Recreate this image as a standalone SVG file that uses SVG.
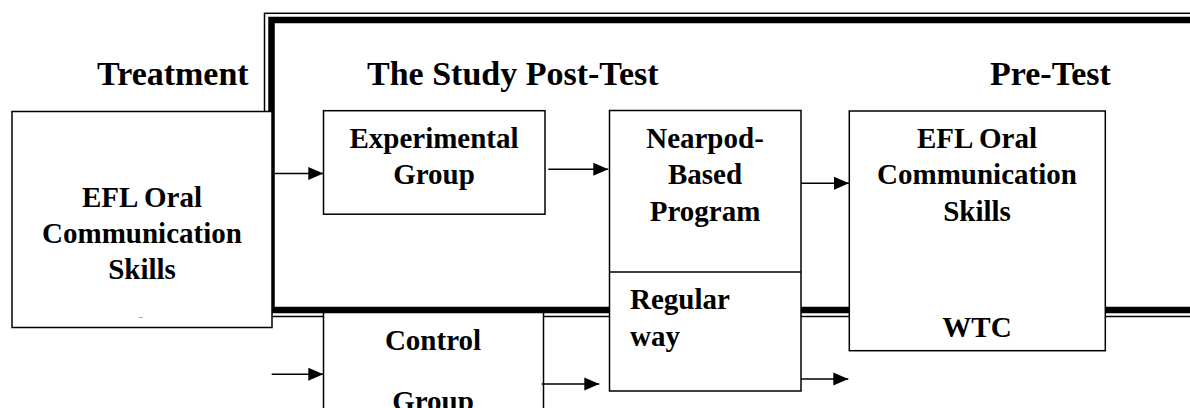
<svg xmlns="http://www.w3.org/2000/svg" width="1190" height="408" viewBox="0 0 1190 408">
<defs>
<style>
.box{fill:#fff;stroke:#000;stroke-width:1.5}
.t{font-family:"Liberation Serif","Times New Roman",serif;font-weight:bold;fill:#000}
.title{font-size:34px}
.lbl{font-size:29px;text-anchor:middle}
.lbll{font-size:29px}
.conn{stroke:#000;stroke-width:1.5;fill:none}
</style>
<marker id="ah" markerUnits="userSpaceOnUse" markerWidth="16" markerHeight="14" refX="15" refY="7" orient="auto">
<polygon points="0,0.5 15,7 0,13.5" fill="#000"/>
</marker>
</defs>
<rect width="1190" height="408" fill="#fff"/>
<g id="frame">
<rect x="264.5" y="13.3" width="1000" height="303.2" fill="none" stroke="#000" stroke-width="1.5"/>
<rect x="271.5" y="20" width="1000" height="290" fill="none" stroke="#000" stroke-width="6.5"/>
</g>
<g id="titles">
<text class="t title" x="97" y="85">Treatment</text>
<text class="t title" x="367" y="85">The Study Post-Test</text>
<text class="t title" x="990" y="85">Pre-Test</text>
</g>
<g id="node-efl-left">
<rect class="box" x="12" y="111.5" width="260" height="216"/>
<text class="t lbl" x="142" y="207">EFL Oral</text>
<text class="t lbl" x="142" y="243">Communication</text>
<text class="t lbl" x="142" y="279">Skills</text>
<line x1="139" y1="317.5" x2="143" y2="317.5" stroke="#aaa" stroke-width="1"/>
</g>
<g id="node-experimental">
<rect class="box" x="323.5" y="110.7" width="221.5" height="103.5"/>
<text class="t lbl" x="434" y="148">Experimental</text>
<text class="t lbl" x="434" y="184">Group</text>
</g>
<g id="node-control">
<rect class="box" x="323.5" y="312.5" width="220" height="120"/>
<text class="t lbl" x="433" y="350">Control</text>
<text class="t lbl" x="433" y="411">Group</text>
</g>
<g id="node-program">
<rect class="box" x="609.5" y="110.5" width="191.5" height="280.5"/>
<line x1="609.5" y1="272" x2="801" y2="272" stroke="#000" stroke-width="1.5"/>
<text class="t lbl" x="705" y="148">Nearpod-</text>
<text class="t lbl" x="705" y="184">Based</text>
<text class="t lbl" x="705" y="221">Program</text>
<text class="t lbll" x="630" y="309">Regular</text>
<text class="t lbll" x="630" y="346">way</text>
</g>
<g id="node-efl-right">
<rect class="box" x="849.3" y="111" width="256" height="239.7"/>
<text class="t lbl" x="977" y="148">EFL Oral</text>
<text class="t lbl" x="977" y="184">Communication</text>
<text class="t lbl" x="977" y="221">Skills</text>
<text class="t lbl" x="977" y="337">WTC</text>
</g>
<g id="connectors">
<line class="conn" x1="275" y1="173.5" x2="323.3" y2="173.5" marker-end="url(#ah)"/>
<line class="conn" x1="548.3" y1="169.3" x2="608.3" y2="169.3" marker-end="url(#ah)"/>
<line class="conn" x1="801" y1="183.3" x2="849" y2="183.3" marker-end="url(#ah)"/>
<line class="conn" x1="271.7" y1="374.3" x2="323.3" y2="374.3" marker-end="url(#ah)"/>
<line class="conn" x1="541.7" y1="384" x2="599.3" y2="384" marker-end="url(#ah)"/>
<line class="conn" x1="801" y1="379" x2="848.3" y2="379" marker-end="url(#ah)"/>
</g>
</svg>
